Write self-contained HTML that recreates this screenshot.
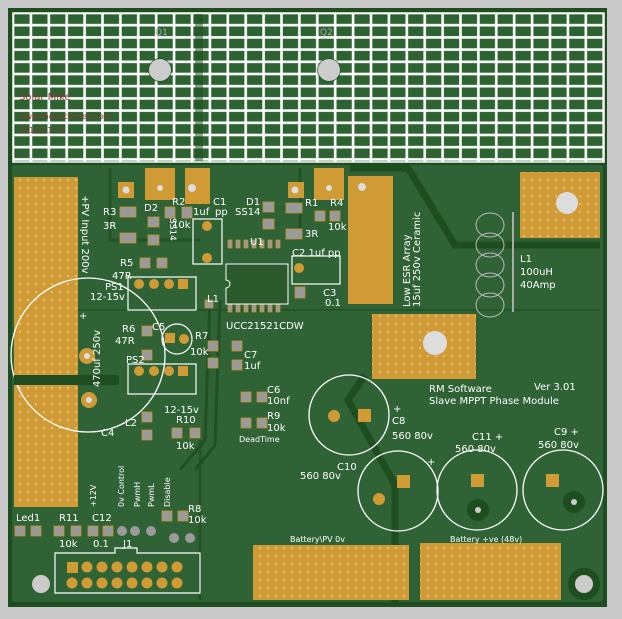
<!DOCTYPE html>
<html><head><style>body{margin:0;background:#c9c9c9}svg{display:block}text{font-family:"DejaVu Sans","Liberation Sans",sans-serif;fill:#fff}</style></head><body>
<svg width="622" height="619" viewBox="0 0 622 619" xmlns="http://www.w3.org/2000/svg">
<defs>
<pattern id="g" x="13" y="13" width="17.9" height="12.2" patternUnits="userSpaceOnUse"><rect width="17.9" height="12.2" fill="#fff"/><rect x="1.3" y="1.3" width="15.3" height="9.6" fill="#2c6330"/></pattern>
<pattern id="dots" width="8" height="8" patternUnits="userSpaceOnUse"><rect width="8" height="8" fill="#d09a34"/><circle cx="4" cy="4" r="0.8" fill="#eee"/></pattern>
</defs>
<rect width="622" height="619" fill="#c9c9c9"/>
<rect x="8" y="8" width="599" height="599" fill="#1e4d1f"/>
<rect x="12" y="165" width="591" height="437" rx="3" fill="#2f6234"/>
<!-- traces -->
<path d="M350 168 H408 L455 245 H600" stroke="#1e4d1f" stroke-width="7" fill="none"/>
<path d="M365 375 L348 400 L395 485 V607" stroke="#1e4d1f" stroke-width="7" fill="none"/>
<path d="M14 310 H600" stroke="#1e4d1f" stroke-width="2" opacity=".6"/>
<path d="M110 168 V240 H200 M300 168 V240" stroke="#1e4d1f" stroke-width="3" fill="none" opacity=".7"/>
<path d="M210 300 L205 440 L180 470 M220 300 L215 445 L195 470" stroke="#214f24" stroke-width="3" fill="none"/>
<path d="M200 440 V600 M190 520 H200" stroke="#1e4d1f" stroke-width="3" fill="none" opacity=".6"/>
<!-- heatsink grid -->
<rect x="13" y="13" width="591" height="149" fill="url(#g)"/>
<rect x="13" y="13" width="591" height="149" fill="none" stroke="#fff" stroke-width="1.5"/>
<rect x="195" y="14" width="8" height="147" fill="#1e4d1f" opacity=".5"/>
<circle cx="160" cy="70" r="12" fill="#1e4d1f" opacity=".7"/><circle cx="160" cy="70" r="11" fill="#ccc"/>
<circle cx="329" cy="70" r="12" fill="#1e4d1f" opacity=".7"/><circle cx="329" cy="70" r="11" fill="#ccc"/>
<text x="155" y="35" font-size="9" fill="#9a9a9a" style="fill:#aaa">Q1</text><text x="320" y="35" font-size="9" style="fill:#aaa">Q2</text>
<text x="19" y="100" font-size="10" style="fill:#8a3838">Solar Mike</text>
<text x="19" y="119" font-size="8" style="fill:#8a3838">www.thebackshed.com</text>
<text x="19" y="133" font-size="8" style="fill:#8a3838">2019-11-17</text>
<!-- left terminal -->
<rect x="14" y="177" width="64" height="330" fill="url(#dots)"/>
<circle cx="88" cy="355" r="77" fill="none" stroke="#fff" stroke-width="1.3"/>
<rect x="14" y="375" width="105" height="10" fill="#1e4d1f"/>
<circle cx="87" cy="356" r="8" fill="#d09a34"/><circle cx="87" cy="356" r="3" fill="#ddd"/>
<circle cx="89" cy="400" r="8" fill="#d09a34"/><circle cx="89" cy="400" r="3" fill="#ddd"/>
<text font-size="10" transform="translate(82,195) rotate(90)">+PV Input 200v</text>
<text font-size="10" transform="translate(100,330) rotate(-90)" text-anchor="end">470uf 250v</text>
<text x="101" y="436" font-size="10">C4</text><text x="79" y="319" font-size="10">+</text>
<!-- top components -->
<rect x="145" y="168" width="30" height="32" fill="#d09a34"/><circle cx="160" cy="188" r="3" fill="#ddd"/>
<rect x="185" y="168" width="25" height="36" fill="#d09a34"/><circle cx="192" cy="188" r="4" fill="#ddd"/>
<rect x="118" y="182" width="16" height="16" fill="#d09a34"/><circle cx="126" cy="190" r="3.5" fill="#ddd"/>
<rect x="288" y="182" width="16" height="16" fill="#d09a34"/><circle cx="295" cy="190" r="3.5" fill="#ddd"/>
<rect x="314" y="168" width="30" height="32" fill="#d09a34"/><circle cx="329" cy="188" r="3" fill="#ddd"/>
<rect x="348" y="176" width="45" height="128" fill="#d09a34"/><circle cx="362" cy="187" r="4" fill="#ddd"/>
<rect x="520" y="172" width="80" height="66" fill="url(#dots)"/><circle cx="567" cy="203" r="11" fill="#ddd"/>
<rect x="372" y="314" width="104" height="65" fill="url(#dots)"/><circle cx="435" cy="343" r="12" fill="#ddd"/>
<text font-size="10" transform="translate(410,307) rotate(-90)">Low ESR Array</text>
<text font-size="10" transform="translate(420,307) rotate(-90)">15uf 250v Ceramic</text>
<g fill="none" stroke="#bbb" stroke-width="1"><ellipse cx="490" cy="225" rx="14" ry="12"/><ellipse cx="490" cy="245" rx="14" ry="12"/><ellipse cx="490" cy="265" rx="14" ry="12"/><ellipse cx="490" cy="285" rx="14" ry="12"/><ellipse cx="490" cy="305" rx="14" ry="12"/></g>
<rect x="512" y="212" width="2" height="100" fill="#aaa"/>
<text x="520" y="262" font-size="10">L1</text><text x="520" y="275" font-size="10">100uH</text><text x="520" y="288" font-size="10">40Amp</text>
<!-- small parts gray pads -->
<g fill="#9a9a9a" stroke="#c9922e" stroke-width=".8">
<rect x="120" y="207" width="16" height="10"/><rect x="120" y="233" width="16" height="10"/>
<rect x="148" y="217" width="11" height="10"/><rect x="148" y="235" width="11" height="10"/>
<rect x="165" y="207" width="10" height="11"/><rect x="182" y="207" width="10" height="11"/>
<rect x="263" y="202" width="11" height="10"/><rect x="263" y="219" width="11" height="10"/>
<rect x="286" y="203" width="16" height="10"/><rect x="286" y="229" width="16" height="10"/>
<rect x="315" y="211" width="10" height="10"/><rect x="330" y="211" width="10" height="10"/>
<rect x="140" y="258" width="10" height="10"/><rect x="157" y="258" width="10" height="10"/>
<rect x="295" y="287" width="10" height="11"/>
<rect x="142" y="326" width="10" height="10"/><rect x="142" y="350" width="10" height="10"/>
<rect x="208" y="341" width="10" height="10"/><rect x="208" y="358" width="10" height="10"/>
<rect x="232" y="341" width="10" height="10"/><rect x="232" y="360" width="10" height="10"/>
<rect x="241" y="392" width="10" height="10"/><rect x="257" y="392" width="10" height="10"/>
<rect x="241" y="418" width="10" height="10"/><rect x="257" y="418" width="10" height="10"/>
<rect x="142" y="412" width="10" height="10"/><rect x="142" y="430" width="10" height="10"/>
<rect x="172" y="428" width="10" height="10"/><rect x="190" y="428" width="10" height="10"/>
<rect x="15" y="526" width="10" height="10"/><rect x="31" y="526" width="10" height="10"/>
<rect x="54" y="526" width="10" height="10"/><rect x="71" y="526" width="10" height="10"/>
<rect x="88" y="526" width="10" height="10"/><rect x="103" y="526" width="10" height="10"/>
<rect x="162" y="511" width="10" height="10"/><rect x="178" y="511" width="10" height="10"/>
<rect x="205" y="300" width="8" height="8"/>
<rect x="228" y="240" width="4" height="8"/><rect x="236" y="240" width="4" height="8"/><rect x="244" y="240" width="4" height="8"/><rect x="252" y="240" width="4" height="8"/><rect x="260" y="240" width="4" height="8"/><rect x="268" y="240" width="4" height="8"/><rect x="276" y="240" width="4" height="8"/>
<rect x="228" y="304" width="4" height="8"/><rect x="236" y="304" width="4" height="8"/><rect x="244" y="304" width="4" height="8"/><rect x="252" y="304" width="4" height="8"/><rect x="260" y="304" width="4" height="8"/><rect x="268" y="304" width="4" height="8"/><rect x="276" y="304" width="4" height="8"/>
</g>
<g fill="none" stroke="#fff" stroke-width="1.2">
<rect x="193" y="219" width="29" height="45"/><rect x="292" y="256" width="48" height="28"/>
<rect x="128" y="277" width="68" height="33"/><rect x="128" y="364" width="68" height="30"/>
<circle cx="177" cy="339" r="15"/>
<path d="M55 553 H115 V548 H137 V553 H200 V593 H55 Z"/>
</g>
<g fill="#d09a34"><circle cx="207" cy="226" r="5"/><circle cx="207" cy="258" r="5"/><circle cx="299" cy="268" r="5"/>
<circle cx="139" cy="284" r="5"/><circle cx="154" cy="284" r="5"/><circle cx="169" cy="284" r="5"/><rect x="178" y="279" width="10" height="10"/>
<circle cx="139" cy="371" r="5"/><circle cx="154" cy="371" r="5"/><circle cx="169" cy="371" r="5"/><rect x="178" y="366" width="10" height="10"/>
<rect x="165" y="333" width="10" height="10"/><circle cx="184" cy="339" r="5"/>
<rect x="67" y="562" width="11" height="11"/><circle cx="87" cy="567" r="5.5"/><circle cx="102" cy="567" r="5.5"/><circle cx="117" cy="567" r="5.5"/><circle cx="132" cy="567" r="5.5"/><circle cx="147" cy="567" r="5.5"/><circle cx="162" cy="567" r="5.5"/><circle cx="177" cy="567" r="5.5"/>
<circle cx="72" cy="583" r="5.5"/><circle cx="87" cy="583" r="5.5"/><circle cx="102" cy="583" r="5.5"/><circle cx="117" cy="583" r="5.5"/><circle cx="132" cy="583" r="5.5"/><circle cx="147" cy="583" r="5.5"/><circle cx="162" cy="583" r="5.5"/><circle cx="177" cy="583" r="5.5"/>
</g>
<g fill="#9a9a9a"><circle cx="122" cy="531" r="5"/><circle cx="135" cy="531" r="5"/><circle cx="151" cy="531" r="5"/><circle cx="174" cy="538" r="5"/><circle cx="190" cy="538" r="5"/></g>
<path d="M226 264 H288 V304 H226 V288 A4 4 0 0 0 226 280 Z" fill="#2a5a2c" stroke="#fff"/>
<circle cx="41" cy="584" r="9" fill="#ccc"/><circle cx="584" cy="584" r="16" fill="#1e4d1f"/><circle cx="584" cy="584" r="9" fill="#ccc"/>
<!-- right caps -->
<g fill="none" stroke="#fff" stroke-width="1.3"><circle cx="349" cy="415" r="40"/><circle cx="398" cy="491" r="40"/><circle cx="477" cy="490" r="40"/><circle cx="563" cy="490" r="40"/></g>
<circle cx="334" cy="416" r="6" fill="#d09a34"/><rect x="358" y="409" width="13" height="13" fill="#d09a34"/>
<circle cx="379" cy="499" r="6" fill="#d09a34"/><rect x="397" y="475" width="13" height="13" fill="#d09a34"/>
<rect x="471" y="474" width="13" height="13" fill="#d09a34"/><circle cx="478" cy="510" r="11" fill="#1e4d1f"/><circle cx="478" cy="510" r="3" fill="#ccc"/>
<rect x="546" y="474" width="13" height="13" fill="#d09a34"/><circle cx="574" cy="502" r="11" fill="#1e4d1f"/><circle cx="574" cy="502" r="3" fill="#ccc"/>
<rect x="253" y="545" width="156" height="55" fill="url(#dots)"/>
<rect x="420" y="543" width="141" height="57" fill="url(#dots)"/>
<g font-size="10">
<text x="429" y="392">RM Software</text><text x="534" y="390">Ver 3.01</text><text x="429" y="404">Slave MPPT Phase Module</text>
<text x="392" y="439">560 80v</text><text x="392" y="424">C8</text><text x="393" y="412">+</text>
<text x="300" y="479">560 80v</text><text x="337" y="470">C10</text><text x="427" y="465">+</text>
<text x="455" y="452">560 80v</text><text x="472" y="440">C11 +</text>
<text x="538" y="448">560 80v</text><text x="554" y="435">C9 +</text>
<text x="290" y="542" font-size="8">Battery\PV 0v</text><text x="450" y="542" font-size="8">Battery +ve (48v)</text>
<text x="103" y="215">R3</text><text x="103" y="229">3R</text><text x="144" y="211">D2</text><text x="172" y="205">R2</text><text x="172" y="228">10k</text>
<text x="213" y="205">C1</text><text x="193" y="215">1uf</text><text x="215" y="215">pp</text><text x="246" y="205">D1</text><text x="235" y="215">SS14</text>
<text x="305" y="206">R1</text><text x="330" y="206">R4</text><text x="328" y="230">10k</text><text x="305" y="237">3R</text>
<text x="250" y="245">U1</text><text x="292" y="256">C2 1uf pp</text><text x="323" y="296">C3</text><text x="325" y="306">0.1</text>
<text x="120" y="266">R5</text><text x="112" y="279">47R</text><text x="105" y="290">PS1</text><text x="90" y="300">12-15v</text>
<text x="207" y="302">L1</text><text x="226" y="329">UCC21521CDW</text>
<text x="122" y="332">R6</text><text x="115" y="344">47R</text><text x="152" y="330">C5</text><text x="195" y="339">R7</text><text x="190" y="355">10k</text>
<text x="244" y="358">C7</text><text x="244" y="369">1uf</text><text x="126" y="363">PS2</text><text x="164" y="413">12-15v</text>
<text x="267" y="393">C6</text><text x="267" y="404">10nf</text><text x="267" y="419">R9</text><text x="267" y="431">10k</text><text x="239" y="442" font-size="8">DeadTime</text>
<text x="125" y="426">L2</text><text x="176" y="423">R10</text><text x="176" y="449">10k</text>
<text x="188" y="512">R8</text><text x="188" y="523">10k</text>
<text x="16" y="521">Led1</text><text x="59" y="521">R11</text><text x="59" y="547">10k</text><text x="92" y="521">C12</text><text x="93" y="547">0.1</text><text x="123" y="547">J1</text>
</g>
<g font-size="8"><text transform="translate(96,507) rotate(-90)">+12V</text><text transform="translate(124,507) rotate(-90)">0v Control</text><text transform="translate(140,507) rotate(-90)">PwmH</text><text transform="translate(154,507) rotate(-90)">PwmL</text><text transform="translate(170,507) rotate(-90)">Disable</text>
<text transform="translate(170,218) rotate(90)" font-size="9">SS14</text></g>
</svg>
</body></html>
